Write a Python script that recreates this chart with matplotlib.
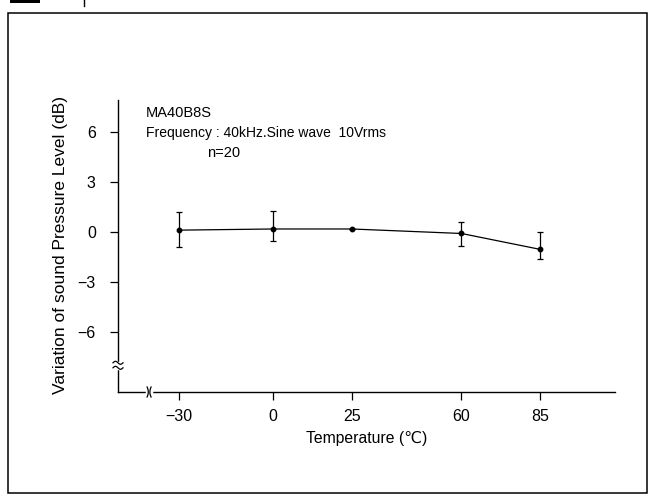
import numpy as np
import matplotlib.pyplot as plt
from matplotlib.patches import Rectangle

plt.rcParams['font.family'] = ['Liberation Sans', 'DejaVu Sans']

# data
temps = [-30, 0, 25, 60, 85]
spl = [0.1, 0.17, 0.17, -0.1, -1.05]
err_top = [1.17, 1.27, 0.17, 0.57, -0.03]
err_bot = [-0.88, -0.53, 0.17, -0.86, -1.62]
yticks = [6, 3, 0, -3, -6]

W, H = 654, 498
fig = plt.figure(figsize=(W / 100, H / 100), dpi=100)

# outer frame of the scanned figure
fig.patches.append(Rectangle((8 / W, 5 / H), 639 / W, 480 / H, transform=fig.transFigure,
                             fill=False, lw=1.1, ec='black'))
fig.patches.append(Rectangle((10 / W, 1 - 3 / H), 30 / W, 3 / H, transform=fig.transFigure,
                             fc='black', ec='none'))
fig.lines.append(plt.Line2D([84 / W, 84 / W], [1 - 6 / H, 1], transform=fig.transFigure,
                            color='black', lw=1))

ax = fig.add_axes([118 / W, (H - 392) / H, 497 / W, 292 / H])
xmin, xmax = -49.4, 108.9
ymin, ymax = -9.6, 7.9
ax.set_xlim(xmin, xmax)
ax.set_ylim(ymin, ymax)

for s in ['top', 'right']:
    ax.spines[s].set_visible(False)
for s in ['left', 'bottom']:
    ax.spines[s].set_linewidth(1.0)

def lab(v):
    return str(v).replace('-', '\u2212')

ax.set_xticks(temps)
ax.set_xticklabels([lab(t) for t in temps])
ax.set_yticks(yticks)
ax.set_yticklabels([lab(v) for v in yticks])
ax.tick_params(direction='out', length=6, width=0.9, labelsize=11.5)
ax.tick_params(axis='y', pad=10)
ax.tick_params(axis='x', pad=6)

ax.set_xlabel('Temperature (℃)', fontsize=11.3, labelpad=5)
ax.set_ylabel('Variation of sound Pressure Level (dB)', fontsize=12.5)
ax.yaxis.set_label_coords(-0.1006, 0.503)

lower = np.array(spl) - np.array(err_bot)
upper = np.array(err_top) - np.array(spl)
ax.errorbar(temps, spl, yerr=[lower, upper], fmt='-o', color='black', lw=0.9,
            ms=3.2, elinewidth=0.9, capsize=2.5, capthick=0.9, clip_on=False)

# axis break marks
px_x = (xmax - xmin) / 497
px_y = (ymax - ymin) / 292
yb = -8.0
ax.plot([xmin, xmin], [yb - 2.5 * px_y, yb + 2.5 * px_y], color='white', lw=2.5,
        clip_on=False, zorder=5)
t = np.linspace(-1, 1, 15)
for off in (-2.5, 2.5):
    ax.plot(xmin + 5 * px_x * t, yb + off * px_y + 1.5 * px_y * np.sin(np.pi * t) * -1,
            color='black', lw=0.9, clip_on=False, zorder=6)
xb = -39.5
ax.plot([xb - 2 * px_x, xb + 2 * px_x], [ymin, ymin], color='white', lw=2.5,
        clip_on=False, zorder=5)
for off in (-2, 2):
    ax.plot(xb + off * px_x + 1.2 * px_x * (1 - t ** 2) * np.sign(off) * -1,
            ymin + 5 * px_y * t, color='black', lw=0.9, clip_on=False, zorder=6)

ax.text(-40.5, 7.1, 'MA40B8S', fontsize=10.5, va='center', ha='left')
ax.text(-40.5, 5.9, 'Frequency : 40kHz.Sine wave  10Vrms', fontsize=10,
        va='center', ha='left')
ax.text(-21, 4.7, 'n=20', fontsize=10.5, va='center', ha='left')

fig.savefig('out.png', dpi=100)
